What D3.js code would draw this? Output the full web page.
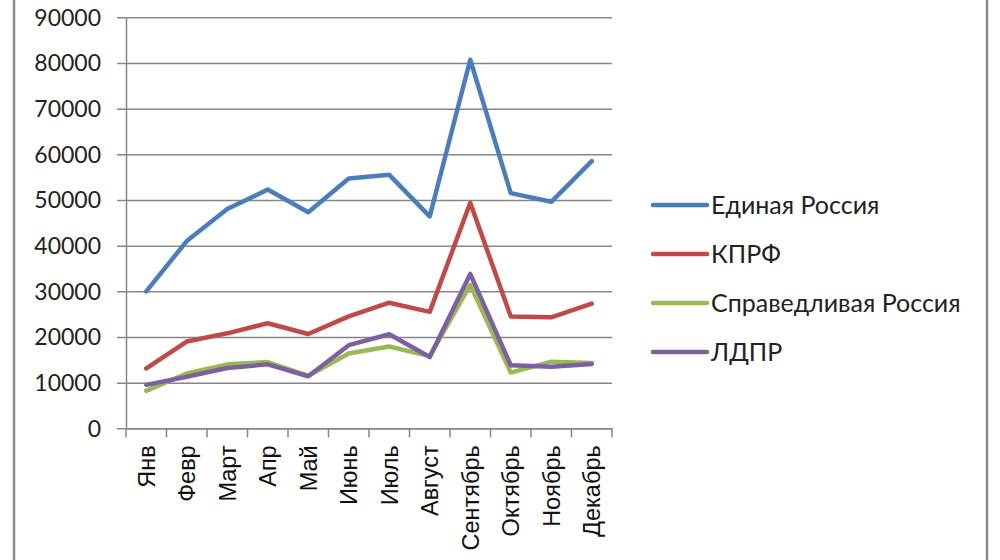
<!DOCTYPE html>
<html lang="ru">
<head>
<meta charset="utf-8">
<title>Партии по месяцам</title>
<script src="https://d3js.org/d3.v7.min.js"></script>
<style>
  body{margin:0;background:#fff;}
  .axis path,.axis line{stroke:#868686;}
  .ylab{font-family:Lato,"Open Sans",sans-serif;font-size:23px;fill:#222;}
  .xlab{font-family:"Liberation Sans",Arial,sans-serif;font-size:23.5px;fill:#111;}
  .leg{font-family:Lato,"Open Sans",sans-serif;font-size:25px;fill:#222;}
</style>
</head>
<body>
<div id="chart"></div>
<script>
// months on the x axis
var months = ["Янв","Февр","Март","Апр","Май","Июнь","Июль","Август","Сентябрь","Октябрь","Ноябрь","Декабрь"]
// series values
var edinaya = [30000,41000,48000,52300,47300,54700,55500,46400,80700,51500,49600,58500]
var kprf    = [13100,19000,20800,23000,20650,24500,27500,25500,49400,24500,24300,27300]
var sprav   = [8200,12000,14000,14500,11500,16400,17900,15800,31400,12200,14600,14300]
var ldpr    = [9500,11300,13200,14000,11400,18200,20600,15600,33800,13800,13500,14100]
var seriesNames = ["Единая Россия","КПРФ","Справедливая Россия","ЛДПР"]
var seriesColors = ["#4A7EBB","#BE4B48","#98B954","#7D60A0"]
var yTicks = [0,10000,20000,30000,40000,50000,60000,70000,80000,90000]

var W = 1000, H = 560
// plot box (named so they don't clash with window.top)
var plotL = 126, plotR = 612, plotT = 17.3, plotB = 428.3

var svg = d3.select("#chart").append("svg")
    .attr("width",W).attr("height",H)

// outer frame edges
svg.append("line").attr("x1",14).attr("x2",14).attr("y1",0).attr("y2",H)
    .attr("stroke","#8a8a8a").attr("stroke-width",2.5)
svg.append("line").attr("x1",987).attr("x2",987).attr("y1",0).attr("y2",H)
    .attr("stroke","#8a8a8a").attr("stroke-width",2.5)

var xScale = d3.scaleBand().domain(months).range([plotL,plotR])
var yScale = d3.scaleLinear().domain([0,90000]).range([plotB,plotT])

// gridlines + y axis
var yAxis = d3.axisLeft(yScale).tickValues(yTicks).tickFormat(d3.format("d"))
    .tickSize(-(plotR-plotL)).tickSizeOuter(0)
var gy = svg.append("g").attr("class","axis")
    .attr("transform","translate("+plotL+",0)")
    .call(yAxis)
gy.selectAll(".tick line").attr("x1",-9).attr("stroke-width",1.5)
gy.select(".domain").attr("stroke-width",1.5)
gy.selectAll(".tick text").attr("class","ylab").attr("x",-25).attr("dy","0.34em")

// x axis, ticks between categories
var xAxis = d3.axisBottom(xScale).tickSize(0).tickSizeOuter(0)
var gx = svg.append("g").attr("class","axis")
    .attr("transform","translate(0,"+plotB+")")
    .call(xAxis)
gx.select(".domain").attr("stroke-width",1.5)
gx.selectAll(".tick text")
    .attr("class","xlab")
    .attr("transform","rotate(-90)")
    .attr("x",-17).attr("y",0).attr("dy","0.36em")
    .style("text-anchor","end")
var edges = months.map(function(m){ return xScale(m) }).concat([plotR])
svg.append("g").selectAll("line").data(edges).enter().append("line")
    .attr("x1",function(d){ return d }).attr("x2",function(d){ return d })
    .attr("y1",plotB).attr("y2",plotB+9)
    .attr("stroke","#868686").attr("stroke-width",1.5)

// lines
var allSeries = [edinaya,kprf,sprav,ldpr]
var line = d3.line()
    .x(function(d,i){ return xScale(months[i]) + xScale.bandwidth()/2 })
    .y(function(d){ return yScale(d) })

// green drawn before purple so purple sits on top, as in the picture
svg.append("g").selectAll("path").data(allSeries).enter().append("path")
    .attr("d",function(d){ return line(d) })
    .attr("fill","none")
    .attr("stroke",function(d,i){ return seriesColors[i] })
    .attr("stroke-width",4.5)
    .attr("stroke-linejoin","round")
    .attr("stroke-linecap","round")

// legend
var leg = svg.append("g").selectAll("g").data(seriesNames).enter().append("g")
    .attr("transform",function(d,i){ return "translate(653,"+(205+i*49)+")" })
leg.append("line").attr("x1",0).attr("x2",54).attr("y1",0).attr("y2",0)
    .attr("stroke",function(d,i){ return seriesColors[i] })
    .attr("stroke-width",4.5).attr("stroke-linecap","round")
leg.append("text").attr("class","leg").attr("x",58).attr("dy","0.35em")
    .text(function(d){ return d })
</script>
</body>
</html>
